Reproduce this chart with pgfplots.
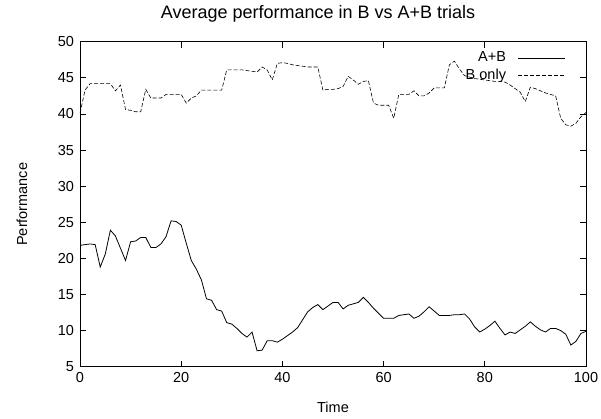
\documentclass[border=0pt]{standalone}
\usepackage{fontspec}
\setmainfont{Liberation Sans}
\usepackage{pgfplots}
\pgfplotsset{compat=1.18}

\pgfplotstableread{
t v
0 21.8
1 21.9
2 22.0
3 21.9
4 18.8
5 20.6
6 23.9
7 23.1
8 21.4
9 19.7
10 22.3
11 22.4
12 22.9
13 22.9
14 21.5
15 21.5
16 22.0
17 23.0
18 25.2
19 25.1
20 24.6
21 22.1
22 19.7
23 18.5
24 17.0
25 14.4
26 14.2
27 12.9
28 12.7
29 11.1
30 10.9
31 10.3
32 9.6
33 9.1
34 9.8
35 7.2
36 7.3
37 8.6
38 8.6
39 8.4
40 8.8
41 9.3
42 9.8
43 10.4
44 11.5
45 12.6
46 13.2
47 13.6
48 12.9
49 13.4
50 13.9
51 13.9
52 13.0
53 13.5
54 13.7
55 13.9
56 14.6
57 13.9
58 13.1
59 12.4
60 11.7
61 11.7
62 11.7
63 12.1
64 12.2
65 12.3
66 11.7
67 12.0
68 12.6
69 13.3
70 12.7
71 12.1
72 12.1
73 12.1
74 12.2
75 12.2
76 12.3
77 11.6
78 10.5
79 9.8
80 10.2
81 10.7
82 11.3
83 10.3
84 9.4
85 9.8
86 9.6
87 10.1
88 10.6
89 11.2
90 10.6
91 10.1
92 9.8
93 10.3
94 10.3
95 10.0
96 9.5
97 8.0
98 8.5
99 9.6
100 9.9
}\ab

\pgfplotstableread{
t v
0 40.1
1 43.3
2 44.2
3 44.2
4 44.2
5 44.2
6 44.2
7 43.2
8 44.0
9 40.6
10 40.5
11 40.3
12 40.3
13 43.4
14 42.2
15 42.2
16 42.2
17 42.7
18 42.7
19 42.7
20 42.7
21 41.5
22 42.2
23 42.5
24 43.3
25 43.3
26 43.3
27 43.3
28 43.3
29 46.1
30 46.1
31 46.1
32 46.1
33 46.0
34 45.9
35 45.8
36 46.5
37 46.1
38 44.7
39 47.0
40 47.1
41 47.0
42 46.8
43 46.7
44 46.6
45 46.5
46 46.5
47 46.5
48 43.3
49 43.4
50 43.4
51 43.5
52 43.8
53 45.2
54 44.7
55 44.1
56 44.5
57 44.6
58 41.5
59 41.2
60 41.2
61 41.2
62 39.4
63 42.7
64 42.7
65 42.7
66 43.2
67 42.5
68 42.5
69 42.9
70 43.6
71 43.6
72 43.6
73 46.8
74 47.3
75 46.2
76 45.3
77 45.1
78 44.9
79 44.8
80 44.7
81 44.6
82 44.5
83 44.5
84 44.4
85 44.0
86 43.5
87 43.0
88 41.7
89 43.7
90 43.5
91 43.2
92 42.9
93 42.7
94 42.5
95 39.4
96 38.5
97 38.3
98 38.7
99 39.6
100 40.2
}\bonly

\begin{document}
\fontsize{14.5bp}{17bp}\selectfont
\begin{tikzpicture}
\useasboundingbox (-80bp,-52.3bp) rectangle (521bp,366.7bp);
\begin{axis}[
  at={(0,0)}, anchor=south west,
  scale only axis,
  width=506bp, height=325bp,
  xmin=0, xmax=100, ymin=5, ymax=50,
  xtick={0,20,...,100}, ytick={5,10,...,50},
  tick align=inside,
  major tick length=6bp,
  axis line style={line width=0.9pt},
  every tick/.style={black, line width=0.8pt},
  /pgf/number format/assume math mode=true,
  xticklabel style={yshift=-1bp},
  yticklabel style={xshift=-1bp},
  title={Average performance in B vs A+B trials},
  title style={at={(0.5,1)}, anchor=center, xshift=-15bp, yshift=21.5bp,
    font=\fontsize{18bp}{21bp}\selectfont},
  xlabel={Time},
  xlabel style={at={(0.5,0)}, anchor=center, yshift=-41bp},
  ylabel={Performance},
  ylabel style={at={(0,0.5)}, anchor=center, yshift=58bp},
  legend plot pos=right,
  legend cell align=right,
  legend image code/.code={\path (0bp,0bp); \draw[#1] (10bp,0bp) -- (57bp,0bp);},
  legend style={draw=none, fill=none, at={(1,1)}, anchor=north east,
    xshift=-17bp, yshift=-6bp, row sep=0.5bp},
]
\addplot[black, line width=0.8pt] table[x=t, y=v] {\ab};
\addlegendentry{A+B}
\addplot[black, line width=0.6pt, dash pattern=on 4bp off 2bp] table[x=t, y=v] {\bonly};
\addlegendentry{B only}
\end{axis}
\end{tikzpicture}
\end{document}
